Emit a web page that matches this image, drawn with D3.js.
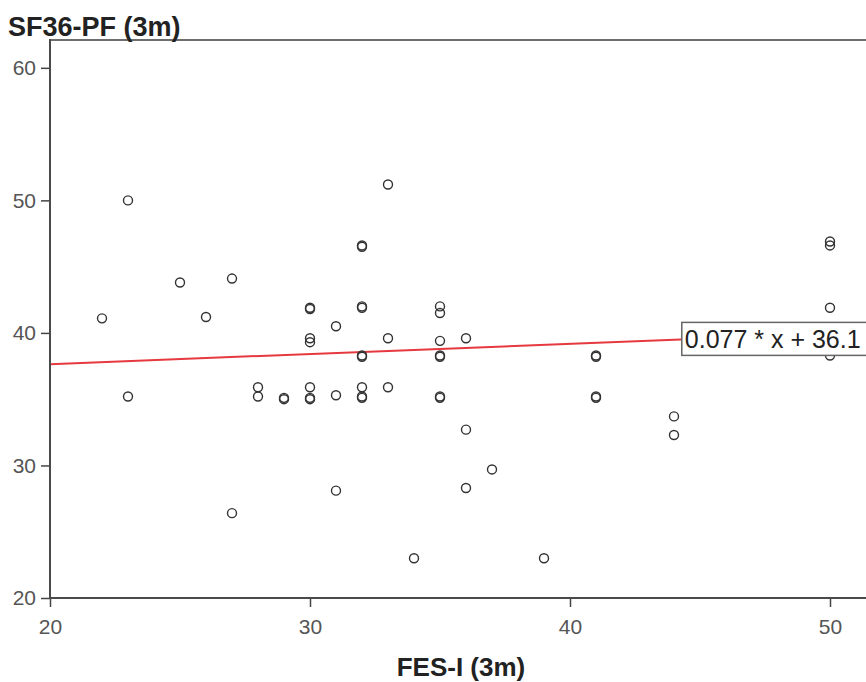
<!DOCTYPE html>
<html><head><meta charset="utf-8">
<script src="https://cdn.jsdelivr.net/npm/d3@7"></script>
<style>
html,body{margin:0;padding:0;background:#fff;overflow:hidden}
text{font-family:"Liberation Sans",Arial,sans-serif}
</style></head>
<body>
<script>
const fesX = [22,23,23,25,26,27,27,28,28,29,29,
  30,30,30,30,30,30,30,
  31,31,31,
  32,32,32,32,32,32,32,32,32,
  33,33,33,
  34,
  35,35,35,35,35,35,35,
  36,36,36,
  37,
  39,
  41,41,41,41,
  44,44,
  50,50,50,50];
const sf36Y = [41.1,50.0,35.2,43.8,41.2,44.1,26.4,35.9,35.2,35.0,35.1,
  41.9,41.8,39.6,39.3,35.9,35.1,35.0,
  40.5,35.3,28.1,
  46.6,46.5,42.0,41.9,38.3,38.2,35.9,35.2,35.1,
  51.2,39.6,35.9,
  23.0,
  42.0,41.5,39.4,38.3,38.2,35.2,35.1,
  39.6,32.7,28.3,
  29.7,
  23.0,
  38.3,38.2,35.2,35.1,
  33.7,32.3,
  46.9,46.6,41.9,38.3];
const xTicks = [20,30,40,50];
const yTicks = [20,30,40,50,60];
const fitSlope = 0.077, fitIntercept = 36.1;
const fitLabel = "0.077 * x + 36.1";
const xTitle = "FES-I (3m)", yTitle = "SF36-PF (3m)";

const W = 866, H = 682;
const svg = d3.select("body").append("svg").attr("width", W).attr("height", H);

const x = d3.scaleLinear().domain([20, 52]).range([50, 882]);
const y = d3.scaleLinear().domain([20, 62.1]).range([598, 40]);

// frame
svg.append("line").attr("x1", 50).attr("x2", W).attr("y1", 40).attr("y2", 40)
  .attr("stroke", "#6e6e6e").attr("stroke-width", 2);

// regression line
const lineX = [20, 52];
svg.append("path")
  .attr("d", d3.line().x(d => x(d)).y(d => y(fitSlope * d + fitIntercept))(lineX))
  .attr("stroke", "#e5393f").attr("stroke-width", 2).attr("fill", "none");

// points
svg.append("g").selectAll("circle").data(fesX.map((v, i) => [v, sf36Y[i]]))
  .join("circle")
  .attr("cx", d => x(d[0])).attr("cy", d => y(d[1])).attr("r", 4.5)
  .attr("fill", "none").attr("stroke", "#333").attr("stroke-width", 1.4);

// axes
const yAxis = d3.axisLeft(y).tickValues(yTicks).tickSize(9).tickPadding(5).tickFormat(d3.format("d"));
const gy = svg.append("g").attr("transform", "translate(50,0)").call(yAxis);
const xAxis = d3.axisBottom(x).tickValues(xTicks).tickSize(9).tickPadding(12).tickFormat(d3.format("d"));
const gx = svg.append("g").attr("transform", "translate(0,598)").call(xAxis);
[gy, gx].forEach(g => {
  g.select(".domain").remove();
  g.selectAll(".tick line").attr("stroke", "#444").attr("stroke-width", 1.5);
  g.selectAll(".tick text").attr("fill", "#555").style("font-size", "21px")
    .style("font-family", "'Liberation Sans',Arial,sans-serif");
});
svg.append("line").attr("x1", 50).attr("x2", 50).attr("y1", 39).attr("y2", 599)
  .attr("stroke", "#4a4a4a").attr("stroke-width", 2);
svg.append("line").attr("x1", 49).attr("x2", W).attr("y1", 598).attr("y2", 598)
  .attr("stroke", "#4a4a4a").attr("stroke-width", 2);

// fit label
const lx = x(44.3), ly = y(fitSlope * 44.3 + fitIntercept);
const lab = svg.append("g");
lab.append("rect").attr("x", lx).attr("y", ly - 17).attr("width", 240).attr("height", 33)
  .attr("fill", "#fff").attr("stroke", "#666").attr("stroke-width", 1.5);
lab.append("text").attr("x", lx + 3).attr("y", ly + 9).text(fitLabel)
  .style("font-size", "25px").attr("fill", "#222");

// titles
svg.append("text").attr("x", 8).attr("y", 36).text(yTitle)
  .style("font-size", "27px").style("font-weight", "bold").attr("fill", "#222");
svg.append("text").attr("x", 461).attr("y", 676).attr("text-anchor", "middle").text(xTitle)
  .style("font-size", "26px").style("font-weight", "bold").attr("fill", "#222");
</script>
</body></html>
